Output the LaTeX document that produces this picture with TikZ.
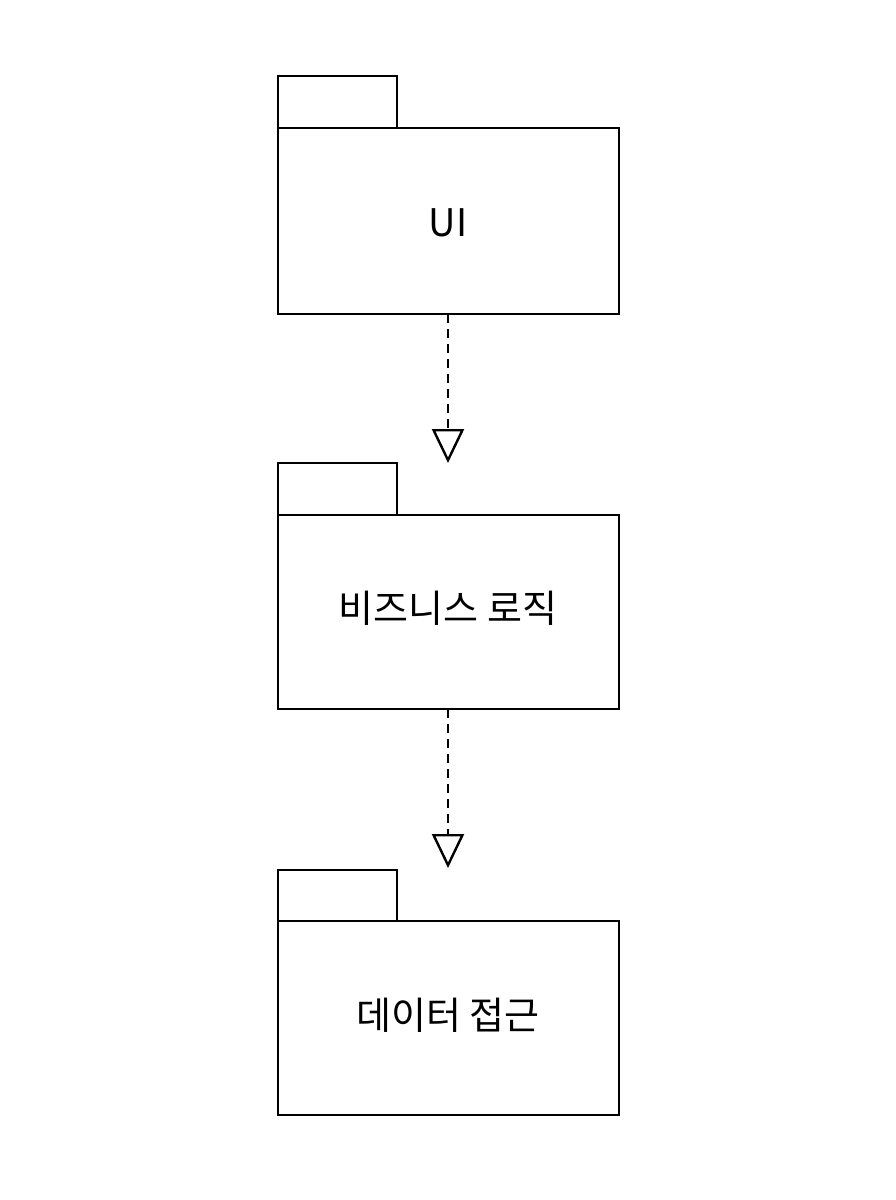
\documentclass[tikz,border=0pt]{standalone}
\usepackage{fontspec}
\setmainfont{Noto Sans CJK KR}
\usetikzlibrary{arrows.meta}
\begin{document}
\begin{tikzpicture}[x=1pt,y=-1pt,
  pk/.style={draw,line width=2.6pt},
  lbl/.style={font=\fontsize{38}{44}\selectfont,inner sep=0pt},
  dep/.style={line width=2.4pt,dash pattern=on 9pt off 6pt,-{Triangle[open,length=34pt,width=32pt,line width=2.4pt]}}]
\useasboundingbox (0,0) rectangle (896,1200);
\draw[pk] (278,76) rectangle (397,128);
\draw[pk] (278,128) rectangle (619,314);
\node[lbl] (a) at (448,223) {UI};
\draw[pk] (278,463) rectangle (397,515);
\draw[pk] (278,515) rectangle (619,709);
\node[lbl] (b) at (448,608) {비즈니스 로직};
\draw[pk] (278,870) rectangle (397,921);
\draw[pk] (278,921) rectangle (619,1115);
\node[lbl] (c) at (448,1015) {데이터 접근};
\coordinate (atop) at (448,314);
\coordinate (bin) at (448,463);
\coordinate (bout) at (448,709);
\coordinate (cin) at (448,868);
\draw[dep] (atop) -- (bin);
\draw[dep] (bout) -- (cin);
\end{tikzpicture}
\end{document}
